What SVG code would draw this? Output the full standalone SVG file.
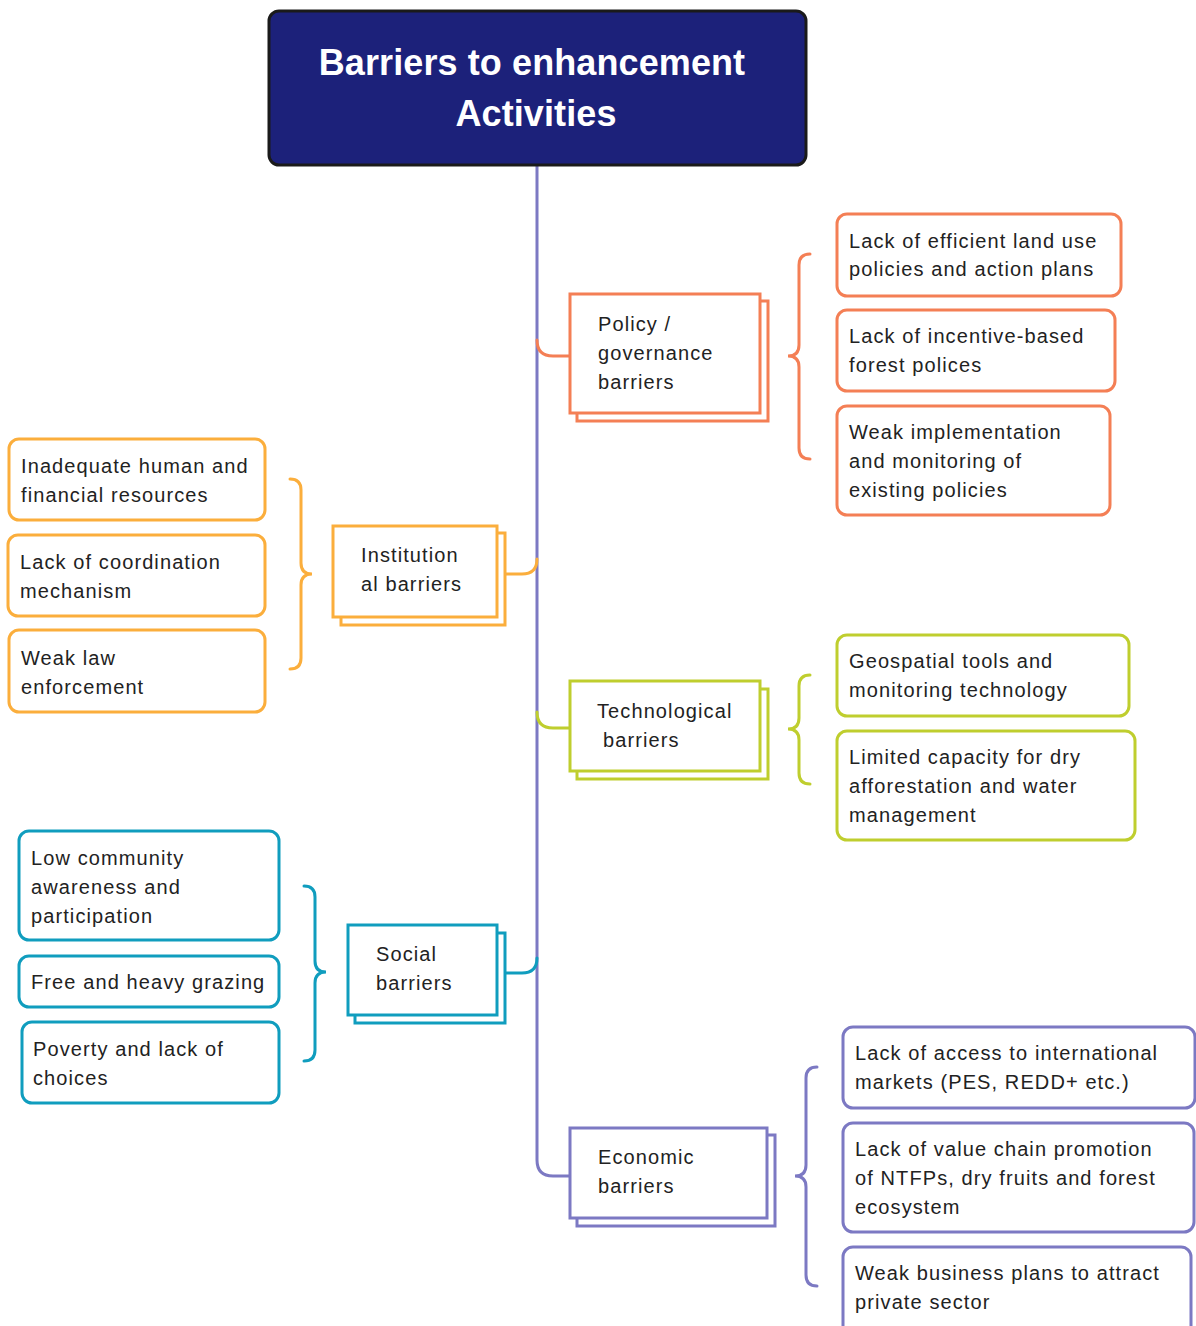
<svg xmlns="http://www.w3.org/2000/svg" width="1196" height="1326" viewBox="0 0 1196 1326">
<style>
text{font-family:"Liberation Sans",Arial,sans-serif;font-size:20px;letter-spacing:1.1px;fill:#222}
.title{fill:#fff;font-size:36px;font-weight:bold;letter-spacing:0.1px;text-anchor:middle}
.b{fill:#fff;stroke-width:3}
.po{stroke:#f47f55}.in{stroke:#fbae3c}.te{stroke:#bfce2e}.so{stroke:#109dbe}.ec{stroke:#7c79c3}
.c{fill:none;stroke-width:3;stroke-linecap:round}
</style>
<rect width="1196" height="1326" fill="#fff"/>
<g id="connectors">
<path class="c ec" d="M537,165 L537,1160 Q537,1176 553,1176 L570,1176"/>
<path class="c po" d="M537,340 Q537,356 553,356 L570,356"/>
<path class="c te" d="M537,712 Q537,728 553,728 L570,728"/>
<path class="c in" d="M505,574 L522,574 Q537,574 537,559"/>
<path class="c so" d="M505,973 L522,973 Q537,973 537,958"/>
<path class="c po" d="M810,254 Q799,254 799,265 L799,345 Q799,356 788,356 Q799,356 799,367 L799,448 Q799,459 810,459"/>
<path class="c te" d="M810,675 Q799,675 799,686 L799,718 Q799,729 788,729 Q799,729 799,740 L799,773 Q799,784 810,784"/>
<path class="c ec" d="M817,1067 Q806,1067 806,1078 L806,1165 Q806,1176 795,1176 Q806,1176 806,1187 L806,1275 Q806,1286 817,1286"/>
<path class="c in" d="M290,479 Q301,479 301,490 L301,563 Q301,574 312,574 Q301,574 301,585 L301,658 Q301,669 290,669"/>
<path class="c so" d="M304,886 Q315,886 315,897 L315,961 Q315,972 326,972 Q315,972 315,983 L315,1050 Q315,1061 304,1061"/>
</g>
<g id="title">
<rect x="269" y="11" width="537" height="154" rx="10" fill="#1c217a" stroke="#1a1a1a" stroke-width="3"/>
<text class="title" x="532" y="75">Barriers to enhancement</text>
<text class="title" x="536" y="126">Activities</text>
</g>
<g id="policy">
<rect class="b po" x="577" y="301" width="191" height="120"/>
<rect class="b po" x="570" y="294" width="190" height="119"/>
<text x="598" y="331">Policy /</text>
<text x="598" y="360">governance</text>
<text x="598" y="389">barriers</text>
</g>
<g id="policy-1">
<rect class="b po" x="837" y="214" width="284" height="82" rx="10"/>
<text x="849" y="248">Lack of efficient land use</text>
<text x="849" y="276">policies and action plans</text>
</g>
<g id="policy-2">
<rect class="b po" x="837" y="310" width="278" height="81" rx="10"/>
<text x="849" y="343">Lack of incentive-based</text>
<text x="849" y="372">forest polices</text>
</g>
<g id="policy-3">
<rect class="b po" x="837" y="406" width="273" height="109" rx="10"/>
<text x="849" y="439">Weak implementation</text>
<text x="849" y="468">and monitoring of</text>
<text x="849" y="497">existing policies</text>
</g>
<g id="institutional">
<rect class="b in" x="341" y="533" width="164" height="92"/>
<rect class="b in" x="333" y="526" width="164" height="91"/>
<text x="361" y="562">Institution</text>
<text x="361" y="591">al barriers</text>
</g>
<g id="inst-1">
<rect class="b in" x="9" y="439" width="256" height="81" rx="10"/>
<text x="21" y="473">Inadequate human and</text>
<text x="21" y="502">financial resources</text>
</g>
<g id="inst-2">
<rect class="b in" x="8" y="535" width="257" height="81" rx="10"/>
<text x="20" y="569">Lack of coordination</text>
<text x="20" y="598">mechanism</text>
</g>
<g id="inst-3">
<rect class="b in" x="9" y="630" width="256" height="82" rx="10"/>
<text x="21" y="665">Weak law</text>
<text x="21" y="694">enforcement</text>
</g>
<g id="technological">
<rect class="b te" x="577" y="689" width="191" height="90"/>
<rect class="b te" x="570" y="681" width="190" height="90"/>
<text x="597" y="718">Technological</text>
<text x="603" y="747">barriers</text>
</g>
<g id="tech-1">
<rect class="b te" x="837" y="635" width="292" height="81" rx="10"/>
<text x="849" y="668">Geospatial tools and</text>
<text x="849" y="697">monitoring technology</text>
</g>
<g id="tech-2">
<rect class="b te" x="837" y="731" width="298" height="109" rx="10"/>
<text x="849" y="764">Limited capacity for dry</text>
<text x="849" y="793">afforestation and water</text>
<text x="849" y="822">management</text>
</g>
<g id="social">
<rect class="b so" x="355" y="933" width="150" height="90"/>
<rect class="b so" x="348" y="925" width="149" height="90"/>
<text x="376" y="961">Social</text>
<text x="376" y="990">barriers</text>
</g>
<g id="social-1">
<rect class="b so" x="19" y="831" width="260" height="109" rx="10"/>
<text x="31" y="865">Low community</text>
<text x="31" y="894">awareness and</text>
<text x="31" y="923">participation</text>
</g>
<g id="social-2">
<rect class="b so" x="19" y="956" width="260" height="51" rx="10"/>
<text x="31" y="989">Free and heavy grazing</text>
</g>
<g id="social-3">
<rect class="b so" x="22" y="1022" width="257" height="81" rx="10"/>
<text x="33" y="1056">Poverty and lack of</text>
<text x="33" y="1085">choices</text>
</g>
<g id="economic">
<rect class="b ec" x="577" y="1135" width="198" height="91"/>
<rect class="b ec" x="570" y="1128" width="197" height="90"/>
<text x="598" y="1164">Economic</text>
<text x="598" y="1193">barriers</text>
</g>
<g id="econ-1">
<rect class="b ec" x="843" y="1027" width="352" height="81" rx="10"/>
<text x="855" y="1060">Lack of access to international</text>
<text x="855" y="1089">markets (PES, REDD+ etc.)</text>
</g>
<g id="econ-2">
<rect class="b ec" x="843" y="1123" width="351" height="109" rx="10"/>
<text x="855" y="1156">Lack of value chain promotion</text>
<text x="855" y="1185">of NTFPs, dry fruits and forest</text>
<text x="855" y="1214">ecosystem</text>
</g>
<g id="econ-3">
<rect class="b ec" x="843" y="1247" width="348" height="90" rx="10"/>
<text x="855" y="1280">Weak business plans to attract</text>
<text x="855" y="1309">private sector</text>
</g>
</svg>
